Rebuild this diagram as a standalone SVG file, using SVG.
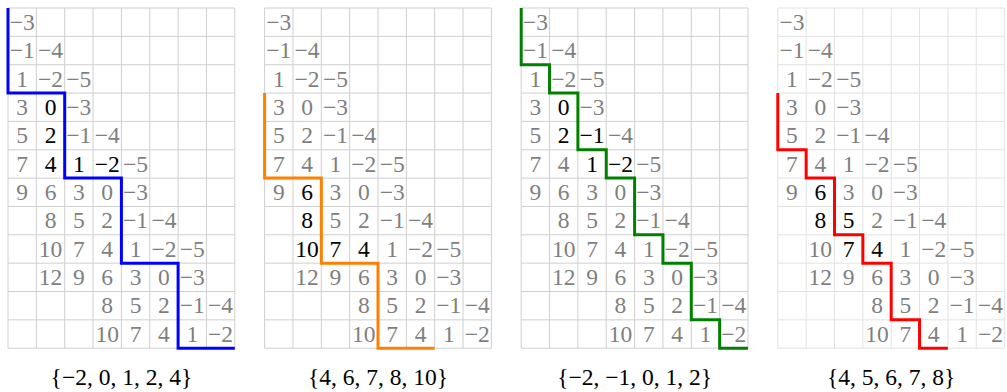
<svg xmlns="http://www.w3.org/2000/svg" xmlns:xlink="http://www.w3.org/1999/xlink" width="1007" height="392" viewBox="0 0 1007 392" font-family="'Liberation Serif','Times New Roman','DejaVu Serif',serif">
<style>
text{font-size:23.5px;text-anchor:middle}
.g{fill:#7f7f7f}
.k{fill:#000}
.grid{fill:none;stroke:#cfcfcf;stroke-width:1}
.grid4{fill:none;stroke:#e2e2e2;stroke-width:1}
.p{fill:none;stroke-width:3;stroke-linejoin:miter;stroke-linecap:butt}
.lab{fill:#000;font-size:23.5px}
</style>
<defs>
<path id="gl" d="M0 0V340.2M28.35 0V340.2M56.7 0V340.2M85.05 0V340.2M113.4 0V340.2M141.75 0V340.2M170.1 0V340.2M198.45 0V340.2M226.8 0V340.2M0 0H226.8M0 28.35H226.8M0 56.7H226.8M0 85.05H226.8M0 113.4H226.8M0 141.75H226.8M0 170.1H226.8M0 198.45H226.8M0 226.8H226.8M0 255.15H226.8M0 283.5H226.8M0 311.85H226.8M0 340.2H226.8"/>
<g id="common">
<text class="g" x="14.18" y="21.9">−3</text>
<text class="g" x="14.18" y="50.3">−1</text><text class="g" x="42.53" y="50.3">−4</text>
<text class="g" x="14.18" y="78.6">1</text><text class="g" x="42.53" y="78.6">−2</text><text class="g" x="70.88" y="78.6">−5</text>
<text class="g" x="14.18" y="107">3</text><text class="g" x="70.88" y="107">−3</text>
<text class="g" x="14.18" y="135.3">5</text><text class="g" x="99.23" y="135.3">−4</text>
<text class="g" x="14.18" y="163.7">7</text><text class="g" x="127.58" y="163.7">−5</text>
<text class="g" x="14.18" y="192">9</text><text class="g" x="70.88" y="192">3</text><text class="g" x="99.23" y="192">0</text><text class="g" x="127.58" y="192">−3</text>
<text class="g" x="99.23" y="220.4">2</text><text class="g" x="127.58" y="220.4">−1</text><text class="g" x="155.93" y="220.4">−4</text>
<text class="g" x="127.58" y="248.7">1</text><text class="g" x="155.93" y="248.7">−2</text><text class="g" x="184.28" y="248.7">−5</text>
<text class="g" x="42.53" y="277.1">12</text><text class="g" x="70.88" y="277.1">9</text><text class="g" x="99.23" y="277.1">6</text><text class="g" x="127.58" y="277.1">3</text><text class="g" x="155.93" y="277.1">0</text><text class="g" x="184.28" y="277.1">−3</text>
<text class="g" x="99.23" y="305.4">8</text><text class="g" x="127.58" y="305.4">5</text><text class="g" x="155.93" y="305.4">2</text><text class="g" x="184.28" y="305.4">−1</text><text class="g" x="212.63" y="305.4">−4</text>
<text class="g" x="99.23" y="333.8">10</text><text class="g" x="127.58" y="333.8">7</text><text class="g" x="155.93" y="333.8">4</text><text class="g" x="184.28" y="333.8">1</text><text class="g" x="212.63" y="333.8">−2</text>
</g>
</defs>

<g id="grid1" transform="translate(8,8)">
<use href="#gl" class="grid"/>
<use href="#common"/>
<text class="k" x="42.53" y="107">0</text>
<text class="k" x="42.53" y="135.3">2</text><text class="g" x="70.88" y="135.3">−1</text>
<text class="k" x="42.53" y="163.7">4</text><text class="k" x="70.88" y="163.7">1</text><text class="k" x="99.23" y="163.7">−2</text>
<text class="g" x="42.53" y="192">6</text>
<text class="g" x="42.53" y="220.4">8</text><text class="g" x="70.88" y="220.4">5</text>
<text class="g" x="42.53" y="248.7">10</text><text class="g" x="70.88" y="248.7">7</text><text class="g" x="99.23" y="248.7">4</text>
</g>

<g id="grid2" transform="translate(264.6,8)">
<use href="#gl" class="grid"/>
<use href="#common"/>
<text class="g" x="42.53" y="107">0</text>
<text class="g" x="42.53" y="135.3">2</text><text class="g" x="70.88" y="135.3">−1</text>
<text class="g" x="42.53" y="163.7">4</text><text class="g" x="70.88" y="163.7">1</text><text class="g" x="99.23" y="163.7">−2</text>
<text class="k" x="42.53" y="192">6</text>
<text class="k" x="42.53" y="220.4">8</text><text class="g" x="70.88" y="220.4">5</text>
<text class="k" x="42.53" y="248.7">10</text><text class="k" x="70.88" y="248.7">7</text><text class="k" x="99.23" y="248.7">4</text>
</g>

<g id="grid3" transform="translate(521.2,8)">
<use href="#gl" class="grid"/>
<use href="#common"/>
<text class="k" x="42.53" y="107">0</text>
<text class="k" x="42.53" y="135.3">2</text><text class="k" x="70.88" y="135.3">−1</text>
<text class="g" x="42.53" y="163.7">4</text><text class="k" x="70.88" y="163.7">1</text><text class="k" x="99.23" y="163.7">−2</text>
<text class="g" x="42.53" y="192">6</text>
<text class="g" x="42.53" y="220.4">8</text><text class="g" x="70.88" y="220.4">5</text>
<text class="g" x="42.53" y="248.7">10</text><text class="g" x="70.88" y="248.7">7</text><text class="g" x="99.23" y="248.7">4</text>
</g>

<g id="grid4" transform="translate(777.8,8)">
<use href="#gl" class="grid4"/>
<use href="#common"/>
<text class="g" x="42.53" y="107">0</text>
<text class="g" x="42.53" y="135.3">2</text><text class="g" x="70.88" y="135.3">−1</text>
<text class="g" x="42.53" y="163.7">4</text><text class="g" x="70.88" y="163.7">1</text><text class="g" x="99.23" y="163.7">−2</text>
<text class="k" x="42.53" y="192">6</text>
<text class="k" x="42.53" y="220.4">8</text><text class="k" x="70.88" y="220.4">5</text>
<text class="g" x="42.53" y="248.7">10</text><text class="k" x="70.88" y="248.7">7</text><text class="k" x="99.23" y="248.7">4</text>
</g>

<g id="connectors">
<path class="p" stroke="#0000ff" transform="translate(8,8)" d="M0 0V85.05H56.7V170.1H113.4V255.15H170.1V340.2H226.8"/>
<path class="p" stroke="#ff8000" transform="translate(264.6,8)" d="M0 85.05V170.1H56.7V255.15H113.4V340.2H170.1"/>
<path class="p" stroke="#008000" transform="translate(521.2,8)" d="M0 0V56.7H28.35V85.05H56.7V141.75H85.05V170.1H113.4V226.8H141.75V255.15H170.1V311.85H198.45V340.2H226.8"/>
<path class="p" stroke="#ff0000" transform="translate(777.8,8)" d="M0 85.05V141.75H28.35V170.1H56.7V226.8H85.05V255.15H113.4V311.85H141.75V340.2H170.1"/>
</g>

<g id="labels">
<text class="lab" x="121.4" y="385">{−2, 0, 1, 2, 4}</text>
<text class="lab" x="378" y="385">{4, 6, 7, 8, 10}</text>
<text class="lab" x="634.6" y="385">{−2, −1, 0, 1, 2}</text>
<text class="lab" x="891.2" y="385">{4, 5, 6, 7, 8}</text>
</g>
</svg>
